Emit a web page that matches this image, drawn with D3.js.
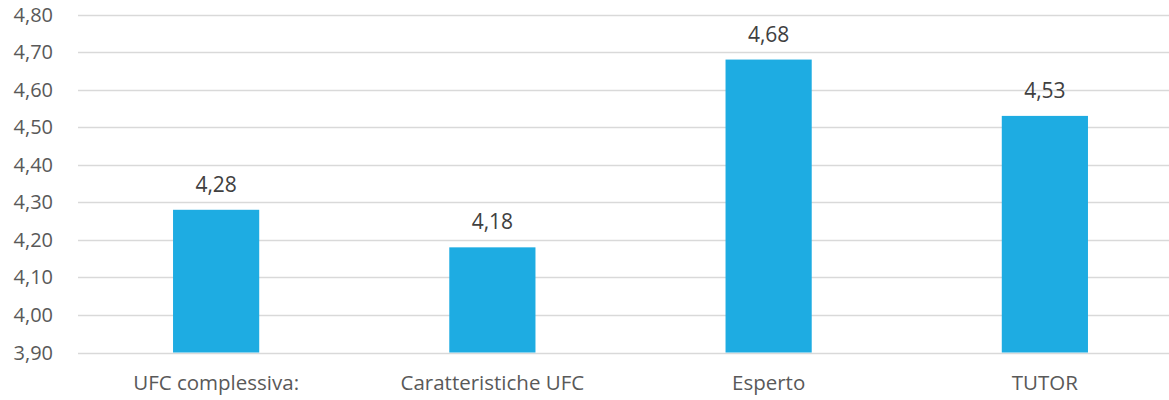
<!DOCTYPE html>
<html>
<head>
<meta charset="utf-8">
<script src="https://cdn.jsdelivr.net/npm/d3@7"></script>
<style>
  body { margin: 0; background: #fff; }
  svg { display: block; font-family: "Open Sans", sans-serif; }
</style>
</head>
<body>
<svg id="chart" width="1169" height="400"></svg>
<script>
const categories = ["UFC complessiva:", "Caratteristiche UFC", "Esperto", "TUTOR"];
const values = [4.28, 4.18, 4.68, 4.53];
const yTicks = [3.9, 4.0, 4.1, 4.2, 4.3, 4.4, 4.5, 4.6, 4.7, 4.8];

const svg = d3.select('#chart');
const fmt = d => d.toFixed(2).replace('.', ',');

// plot area (the last band runs past the right edge, like the original)
let x = d3.scaleBand().domain(categories).range([78, 1183]).paddingInner(0.688).paddingOuter(0.344);
let y = d3.scaleLinear().domain([3.9, 4.8]).range([352.5, 14.5]);

// gridlines
svg.append('g')
  .selectAll('line')
  .data(yTicks)
  .join('line')
  .attr('x1', 78)
  .attr('x2', 1169)
  .attr('y1', d => Math.round(y(d)) + 0.5)
  .attr('y2', d => Math.round(y(d)) + 0.5)
  .attr('stroke', '#d9d9d9')
  .attr('stroke-width', 1.3);

// y tick labels
svg.append('g')
  .selectAll('text')
  .data(yTicks)
  .join('text')
  .attr('x', 53)
  .attr('y', d => y(d))
  .attr('dy', '0.35em')
  .attr('text-anchor', 'end')
  .attr('font-size', 20)
  .attr('fill', '#595959')
  .text(fmt);

// bars
svg.append('g')
  .selectAll('rect')
  .data(values)
  .join('rect')
  .attr('x', (d, i) => x(categories[i]))
  .attr('width', x.bandwidth())
  .attr('y', d => y(d))
  .attr('height', d => y(3.9) - y(d))
  .attr('fill', '#1eace2');

// value labels
svg.append('g')
  .selectAll('text')
  .data(values)
  .join('text')
  .attr('x', (d, i) => x(categories[i]) + x.bandwidth() / 2)
  .attr('y', d => y(d) - 18)
  .attr('text-anchor', 'middle')
  .attr('font-size', 21)
  .attr('fill', '#404040')
  .text(fmt);

// category labels
svg.append('g')
  .selectAll('text')
  .data(categories)
  .join('text')
  .attr('x', d => x(d) + x.bandwidth() / 2)
  .attr('y', 390)
  .attr('text-anchor', 'middle')
  .attr('font-size', 20.5)
  .attr('fill', '#595959')
  .text(d => d);
</script>
</body>
</html>
